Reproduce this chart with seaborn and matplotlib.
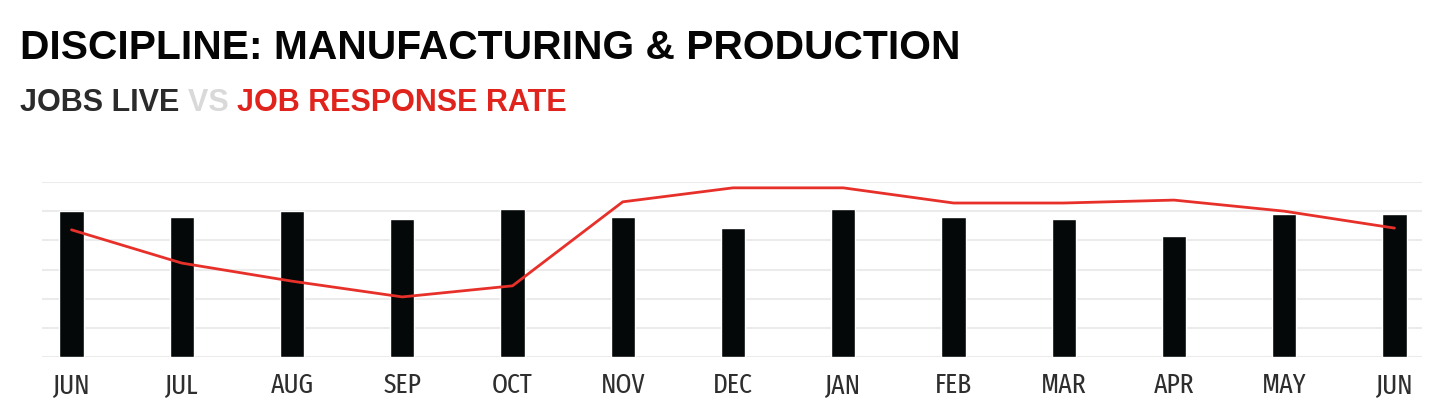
import matplotlib
matplotlib.use("Agg")
import matplotlib.pyplot as plt
import seaborn as sns
import pandas as pd

# months shown on the x axis (a rolling year, June to June)
months = ["JUN", "JUL", "AUG", "SEP", "OCT", "NOV", "DEC",
          "JAN", "FEB", "MAR", "APR", "MAY", "JUN"]
# jobs live per month
jobs_live = [500, 479, 500, 473, 507, 479, 442, 507, 479, 473, 414, 490, 490]
# job response rate, %
response_rate = [21.8, 16.1, 13.0, 10.3, 12.2, 26.6, 29.0, 29.0, 26.4, 26.4, 26.9, 25.0, 22.1]

df = pd.DataFrame({"month": range(len(months)), "label": months,
                   "jobs": jobs_live, "rate": response_rate})

sns.set_style("white")
plt.rcParams['font.family'] = ['Liberation Sans', 'DejaVu Sans']

fig = plt.figure(figsize=(14.4, 4.13), dpi=100)
ax = fig.add_axes([0.029, 0.1356, 0.9585, 0.4237])

# bars
ax.bar(df["month"], df["jobs"], width=0.22, color="#050808", zorder=3)

# response rate on a twin axis
ax2 = ax.twinx()
sns.lineplot(data=df, x="month", y="rate", ax=ax2, color="#e8302a", linewidth=2)
ax2.set_ylim(0, 30)
ax2.set_ylabel("")
ax2.set_xlabel("")
ax2.set_yticks([])
for s in ax2.spines.values():
    s.set_visible(False)

ax.set_ylim(0, 600)
ax.set_yticks(range(0, 601, 100))
ax.yaxis.grid(True, color="#ebebeb", linewidth=1.5, zorder=0)
ax.set_xlim(-0.27, 12.25)
ax.set_xticks(df["month"])
ax.set_xticklabels(df["label"], fontsize=20, color="#2e2e2e",
                   family=['Fira Sans Extra Condensed', 'Liberation Sans Narrow', 'DejaVu Sans'])
ax.tick_params(axis="y", left=False, right=False, labelleft=False)
ax.tick_params(axis="x", bottom=False, pad=7)
ax.set_xlabel("")
for s in ax.spines.values():
    s.set_visible(False)

# titles
fig.text(0.014, 0.857, "DISCIPLINE: MANUFACTURING & PRODUCTION",
         fontsize=29.3, fontweight="bold", color="#050505", va="baseline")
t1 = fig.text(0.014, 0.731, "JOBS LIVE ", fontsize=22, fontweight="bold",
              color="#2b2b2b", va="baseline")
t2 = ax.annotate("VS ", xy=(1, 0), xycoords=t1, fontsize=22, fontweight="bold",
                 color="#d9d9d9", va="bottom", ha="left")
ax.annotate("JOB RESPONSE RATE", xy=(1, 0), xycoords=t2, fontsize=22,
            fontweight="bold", color="#e0231c", va="bottom", ha="left")

fig.savefig("out.png", dpi=100)
